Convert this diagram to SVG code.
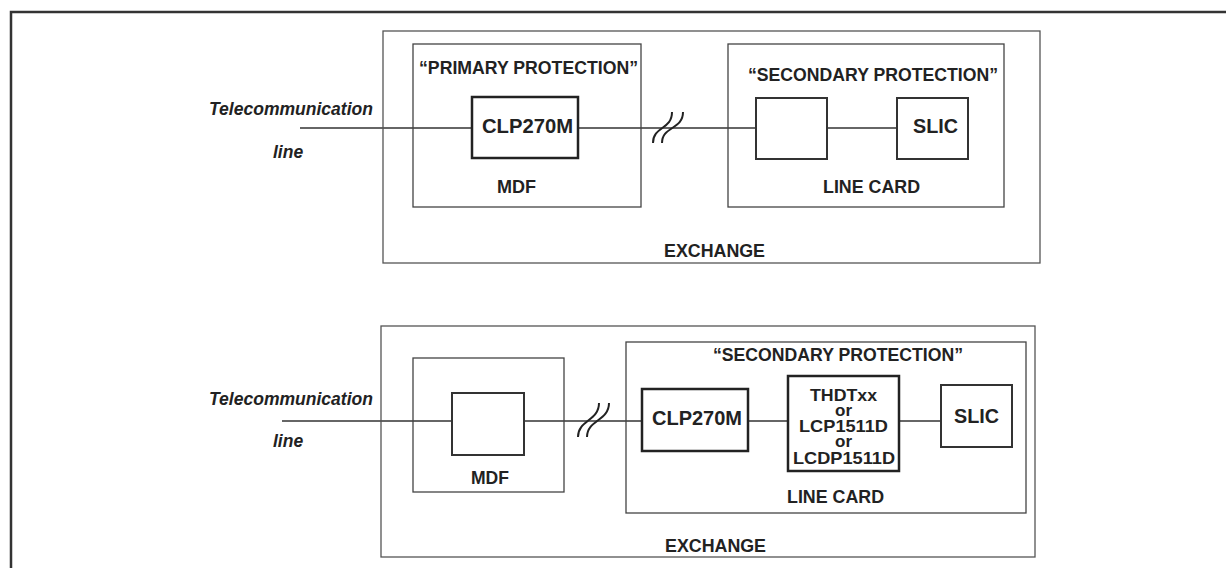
<svg xmlns="http://www.w3.org/2000/svg" width="1226" height="568" viewBox="0 0 1226 568">
<style>
text{font-family:"Liberation Sans",Arial,sans-serif;font-weight:bold;fill:#222}
.it{font-style:italic;font-size:17.5px}
.hd{font-size:17.5px}
.lb{font-size:18px}
.ml{font-size:17px}
.cp{font-size:20px}
.frame{fill:none;stroke:#333;stroke-width:2.5}
.enc{fill:none;stroke:#555;stroke-width:1.3}
.sub{fill:none;stroke:#444;stroke-width:1.3}
.comp{fill:#fff;stroke:#222;stroke-width:2.5}
.comp2{fill:#fff;stroke:#333;stroke-width:2}
.wire{stroke:#333;stroke-width:1.5;fill:none}
.brk{stroke:#222;stroke-width:2;fill:none}
</style>
<rect width="1226" height="568" fill="#fff"/>
<rect class="frame" x="11" y="12" width="1230" height="570"/>

<g id="connectors">
<line class="wire" x1="300" y1="128" x2="472" y2="128"/>
<line class="wire" x1="578" y1="128" x2="756" y2="128"/>
<line class="wire" x1="827" y1="128" x2="897" y2="128"/>
<path class="brk" d="M653,143 C653,126 672,130 672,112"/>
<path class="brk" d="M662,143 C662,126 683,130 683,112"/>
<line class="wire" x1="282" y1="421" x2="452" y2="421"/>
<line class="wire" x1="524" y1="421" x2="642" y2="421"/>
<line class="wire" x1="748" y1="421" x2="788" y2="421"/>
<line class="wire" x1="899" y1="421" x2="941" y2="421"/>
<path class="brk" d="M578,437 C578,420 599,421 599,403"/>
<path class="brk" d="M587,437 C587,420 609,421 609,403"/>
</g>

<g id="telecom-line-top">
<text class="it" x="209" y="115" textLength="164" lengthAdjust="spacingAndGlyphs">Telecommunication</text>
<text class="it" x="273" y="158">line</text>
</g>
<g id="exchange-top">
<rect class="enc" x="383" y="31" width="657" height="232"/>
<text class="lb" x="664" y="257" textLength="101" lengthAdjust="spacingAndGlyphs">EXCHANGE</text>
</g>
<g id="mdf-top">
<rect class="sub" x="413" y="44" width="228" height="163"/>
<text class="hd" x="419" y="74" textLength="219" lengthAdjust="spacingAndGlyphs">“PRIMARY PROTECTION”</text>
<text class="lb" x="497" y="193" textLength="39" lengthAdjust="spacingAndGlyphs">MDF</text>
</g>
<g id="clp-top">
<rect class="comp" x="472" y="97" width="106" height="61"/>
<text class="cp" x="482" y="133" textLength="91" lengthAdjust="spacingAndGlyphs">CLP270M</text>
</g>
<g id="linecard-top">
<rect class="sub" x="728" y="44" width="276" height="163"/>
<text class="hd" x="748" y="81" textLength="250" lengthAdjust="spacingAndGlyphs">“SECONDARY PROTECTION”</text>
<text class="lb" x="823" y="193" textLength="97" lengthAdjust="spacingAndGlyphs">LINE CARD</text>
</g>
<g id="prot-top">
<rect class="comp2" x="756" y="98" width="71" height="61"/>
</g>
<g id="slic-top">
<rect class="comp2" x="897" y="98" width="71" height="61"/>
<text class="cp" x="913" y="133" textLength="45" lengthAdjust="spacingAndGlyphs">SLIC</text>
</g>

<g id="telecom-line-bottom">
<text class="it" x="209" y="405" textLength="164" lengthAdjust="spacingAndGlyphs">Telecommunication</text>
<text class="it" x="273" y="447">line</text>
</g>
<g id="exchange-bottom">
<rect class="enc" x="381" y="326" width="654" height="231"/>
<text class="lb" x="665" y="552" textLength="101" lengthAdjust="spacingAndGlyphs">EXCHANGE</text>
</g>
<g id="mdf-bottom">
<rect class="sub" x="413" y="358" width="151" height="134"/>
<text class="lb" x="471" y="484" textLength="38" lengthAdjust="spacingAndGlyphs">MDF</text>
</g>
<g id="prot-bottom">
<rect class="comp2" x="452" y="393" width="72" height="62"/>
</g>
<g id="linecard-bottom">
<rect class="sub" x="626" y="342" width="400" height="171"/>
<text class="hd" x="713" y="361" textLength="250" lengthAdjust="spacingAndGlyphs">“SECONDARY PROTECTION”</text>
<text class="lb" x="787" y="503" textLength="97" lengthAdjust="spacingAndGlyphs">LINE CARD</text>
</g>
<g id="clp-bottom">
<rect class="comp" x="642" y="389" width="106" height="62"/>
<text class="cp" x="652" y="425" textLength="90" lengthAdjust="spacingAndGlyphs">CLP270M</text>
</g>
<g id="thdt-bottom">
<rect class="comp" x="788" y="376" width="111" height="95"/>
<text class="ml" x="843.5" y="401" text-anchor="middle" textLength="67" lengthAdjust="spacingAndGlyphs">THDTxx</text>
<text class="ml" x="843.5" y="416" text-anchor="middle">or</text>
<text class="ml" x="843.5" y="432" text-anchor="middle" textLength="89" lengthAdjust="spacingAndGlyphs">LCP1511D</text>
<text class="ml" x="843.5" y="447" text-anchor="middle">or</text>
<text class="ml" x="844" y="464" text-anchor="middle" textLength="102" lengthAdjust="spacingAndGlyphs">LCDP1511D</text>
</g>
<g id="slic-bottom">
<rect class="comp2" x="941" y="385" width="71" height="62"/>
<text class="cp" x="954" y="423" textLength="45" lengthAdjust="spacingAndGlyphs">SLIC</text>
</g>
</svg>
